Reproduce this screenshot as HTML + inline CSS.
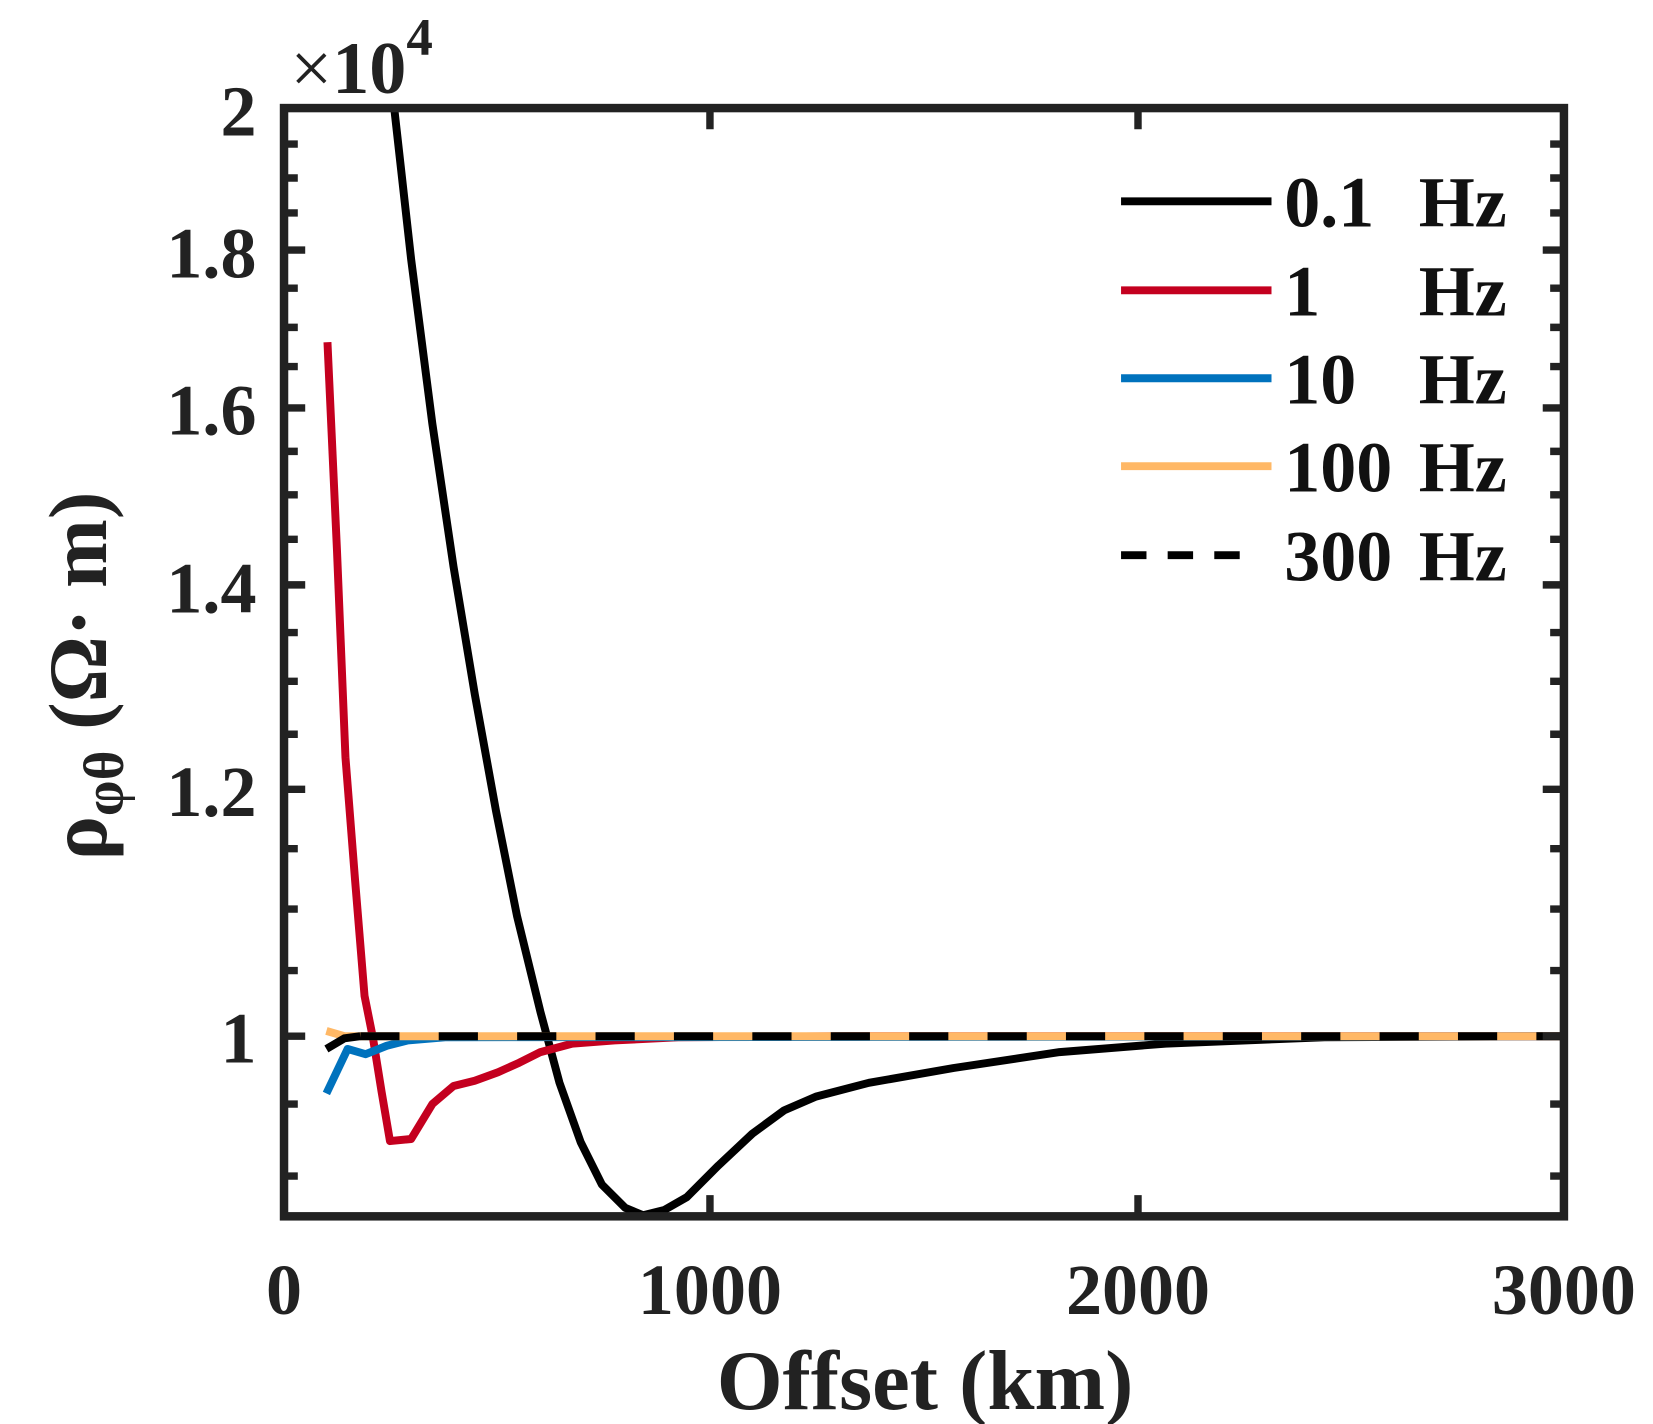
<!DOCTYPE html>
<html><head><meta charset="utf-8"><style>html,body{margin:0;padding:0;background:#fff}svg{display:block}</style></head>
<body>
<svg width="1653" height="1424" viewBox="0 0 1560 1344" xmlns="http://www.w3.org/2000/svg" font-family="'Liberation Serif', serif" font-weight="bold" fill="#222">
<defs><clipPath id="c"><rect x="268" y="102" width="1208" height="1046"/></clipPath></defs>
<g clip-path="url(#c)" fill="none" stroke-linejoin="round" stroke-width="7.5">
<polyline stroke="#000" points="368,60 372,102 388,245 408,400 428,535 448,655 468,765 488,865 510,955 528,1022 548,1078 568,1118 590,1140 607,1147 627,1142 648,1130 678,1100 710,1070 740,1048 770,1035 820,1022 900,1008 1000,993 1100,985 1250,979 1476,978"/>
<polyline stroke="#c4001f" points="309,323 318,520 326,715 335,830 344,940 352,980 360,1030 368,1077 388,1075 408,1042 428,1025 448,1020 470,1012 490,1003 510,993 540,985 580,982 640,979 800,978 1476,978"/>
<polyline stroke="#0072bd" points="308,1032 328,990 345,995 365,987 385,982 420,979 1476,978"/>
<polyline stroke="#ffb866" points="308,973 325,978 1476,978"/>
<polyline stroke="#000" points="308,990 325,980 340,978"/>
<line x1="340" y1="978" x2="1476" y2="978" stroke="#000" stroke-dasharray="37 37"/>
</g>
<g stroke="#222" fill="none">
<rect x="268" y="102" width="1208" height="1046" stroke-width="8"/>
<g stroke-width="7">
<path d="M268,102h20M268,236h20M268,385h20M268,552h20M268,745h20M268,978h20M1476,102h-20M1476,236h-20M1476,385h-20M1476,552h-20M1476,745h-20M1476,978h-20"/>
<path d="M670,1148v-20M1074,1148v-20M670,102v20M1074,102v20"/>
<path d="M268,136h13M268,168h13M268,201h13M268,272h13M268,309h13M268,346h13M268,426h13M268,467h13M268,509h13M268,597h13M268,643h13M268,693h13M268,801h13M268,858h13M268,916h13M268,1042h13M268,1110h13
M1476,136h-13M1476,168h-13M1476,201h-13M1476,272h-13M1476,309h-13M1476,346h-13M1476,426h-13M1476,467h-13M1476,509h-13M1476,597h-13M1476,643h-13M1476,693h-13M1476,801h-13M1476,858h-13M1476,916h-13M1476,1042h-13M1476,1110h-13"/>
</g></g>
<g font-size="68" text-anchor="end">
<text x="242" y="128">2</text><text x="242" y="262">1.8</text><text x="242" y="410">1.6</text><text x="242" y="578">1.4</text><text x="242" y="770">1.2</text><text x="242" y="1003">1</text>
</g>
<g font-size="68" text-anchor="middle">
<text x="268" y="1240">0</text><text x="670" y="1240">1000</text><text x="1074" y="1240">2000</text><text x="1476" y="1240">3000</text>
</g>
<text x="873" y="1330" font-size="80" text-anchor="middle">Offset (km)</text>
<text transform="translate(100,638) rotate(-90)" font-size="78" text-anchor="middle">ρ<tspan font-size="54" dy="16">φθ</tspan><tspan dy="-16"> (Ω· m)</tspan></text>
<text x="274" y="88" font-size="70"><tspan font-weight="normal">×</tspan>10<tspan font-size="50" dy="-36">4</tspan></text>
<g stroke-width="7.5">
<line x1="1058" y1="190" x2="1200" y2="190" stroke="#000"/>
<line x1="1058" y1="274" x2="1200" y2="274" stroke="#c4001f"/>
<line x1="1058" y1="357" x2="1200" y2="357" stroke="#0072bd"/>
<line x1="1058" y1="440" x2="1200" y2="440" stroke="#ffb866"/>
<line x1="1058" y1="524" x2="1170" y2="524" stroke="#000" stroke-dasharray="24 20"/>
</g>
<g font-size="68" fill="#111">
<text x="1212" y="214">0.1</text><text x="1212" y="298">1</text><text x="1212" y="381">10</text><text x="1212" y="464">100</text><text x="1212" y="548">300</text>
<g text-anchor="end"><text x="1422" y="214">Hz</text><text x="1422" y="298">Hz</text><text x="1422" y="381">Hz</text><text x="1422" y="464">Hz</text><text x="1422" y="548">Hz</text></g>
</g>
</svg>
</body></html>
